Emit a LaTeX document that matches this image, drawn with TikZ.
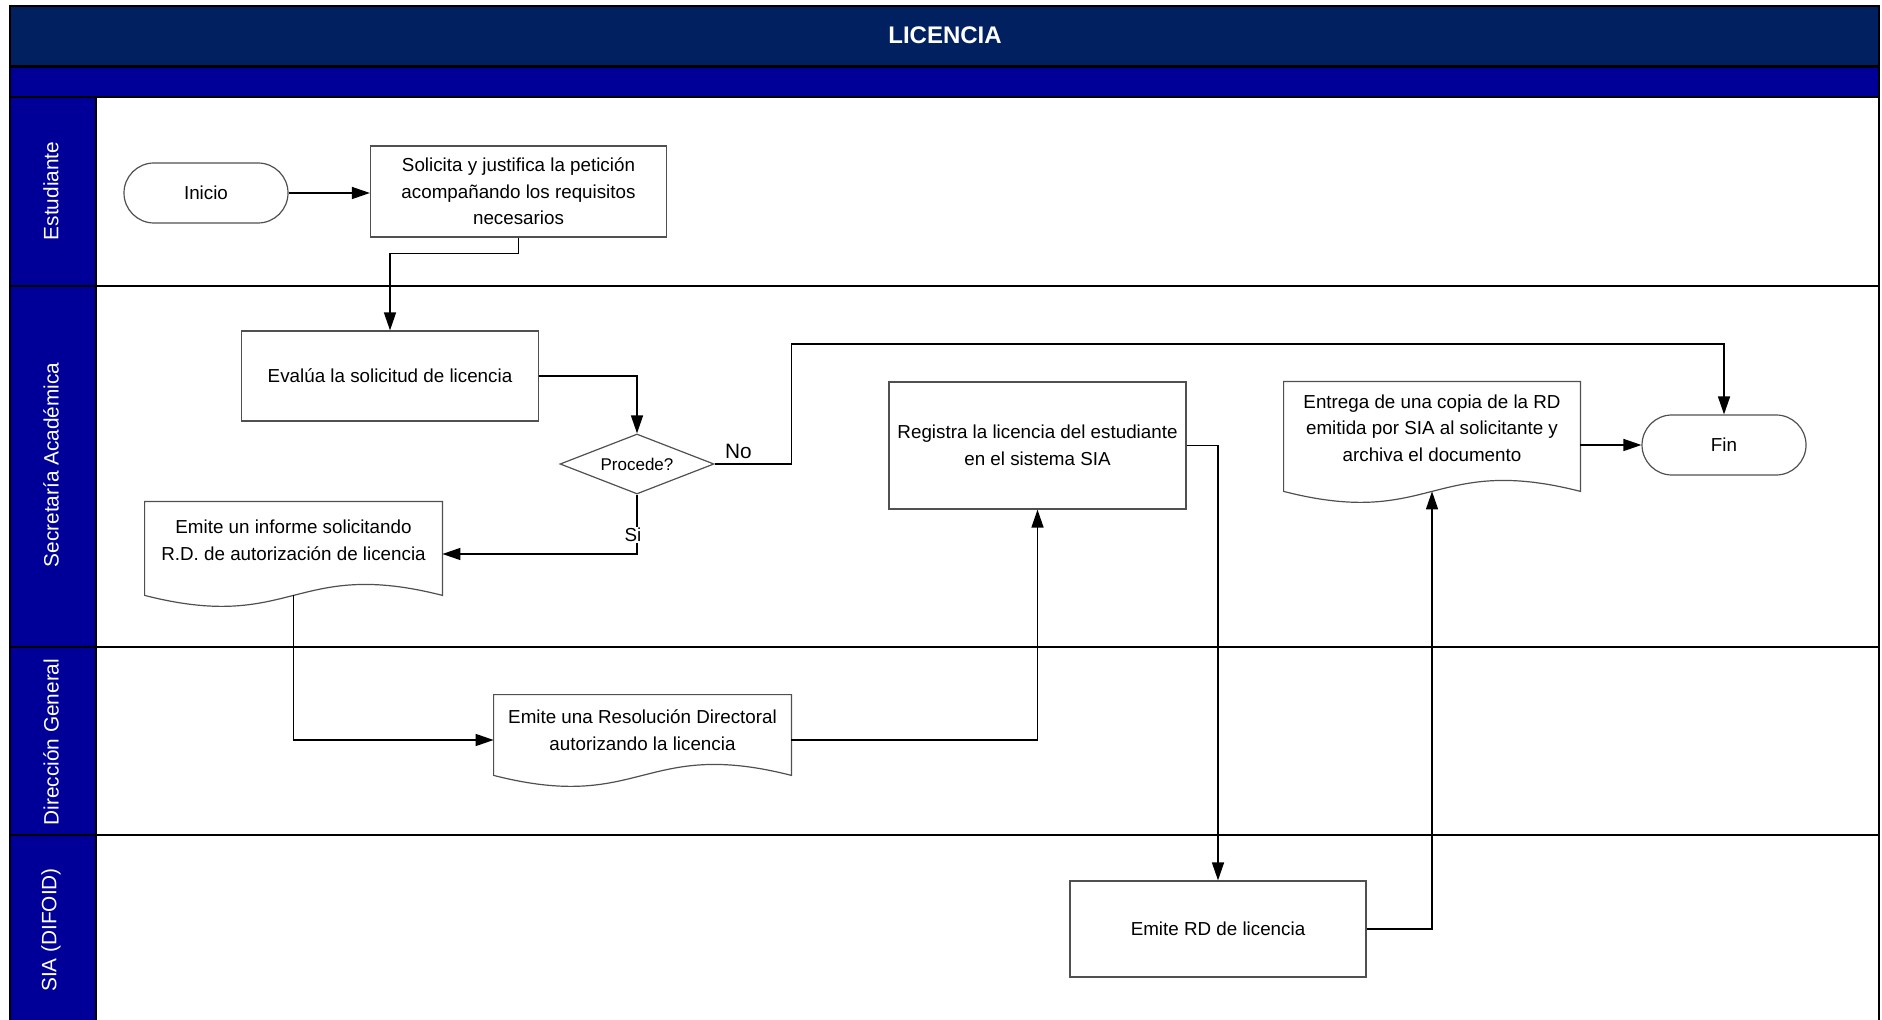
\documentclass[tikz,border=0pt]{standalone}
\usepackage{fontspec}
\setmainfont{Liberation Sans}
\usetikzlibrary{shapes.geometric,arrows.meta,calc}
\definecolor{navy}{HTML}{002060}
\definecolor{laneblue}{HTML}{000099}
\definecolor{boxgray}{HTML}{505050}
\newcommand\myBody{\fontsize{9.4}{13.3}\selectfont}
\newcommand\myLane{\fontsize{10.4}{12}\selectfont}
\newcommand\myTitle{\bfseries\fontsize{12}{14}\selectfont}
% doc outline: name, width (units), side extension below node (units)
\newcommand\docoutline[3]{%
  \draw[boxgray, line width=0.6pt]
    ([yshift=-#3*0.5pt]#1.south west) -- (#1.north west) -- (#1.north east)
    -- ([yshift=-#3*0.5pt]#1.south east)
    .. controls +(-#2*0.5,-38) and +(#2*0.5,38) .. ([yshift=-#3*0.5pt]#1.south west) -- cycle;
  \coordinate (#1-bot) at ([yshift=-#3*0.5pt]#1.south);}
\begin{document}
\begin{tikzpicture}[x=0.5pt,y=-0.5pt,
  lanelbl/.style={text=white, rotate=90, font=\myLane},
  laneline/.style={draw=black, line width=1pt},
  box/.style={draw=boxgray, line width=0.6pt, fill=white, align=center, font=\myBody, inner sep=2pt},
  term/.style={box, rounded corners=15pt, minimum width=82pt, minimum height=30pt},
  docnode/.style={align=center, font=\myBody, inner sep=2pt},
  decision/.style={diamond, draw=boxgray, line width=0.6pt, fill=white, aspect=2.57, inner sep=0pt,
    minimum width=77pt, minimum height=30pt, font=\fontsize{8.5}{10}\selectfont},
  arr/.style={draw=black, line width=0.75pt, -{Triangle[length=9pt,width=6pt]}},
  lbl/.style={font=\myLane, inner sep=1pt}
]
\useasboundingbox (0,0) rectangle (1882,1020);
\clip (0,0) rectangle (1882,1020);
\fill[white] (0,0) rectangle (1882,1020);
% header bands
\fill[navy] (10,6) rectangle (1879,66);
\fill[laneblue] (10,68) rectangle (1879,97);
\fill[laneblue] (10,97) rectangle (96,1030);
\draw[line width=1.5pt] (10,67) -- (1879,67);
\draw[laneline] (10,97) -- (1879,97);
\draw[laneline] (10,286) -- (1879,286);
\draw[laneline] (10,647) -- (1879,647);
\draw[laneline] (10,835) -- (1879,835);
\draw[laneline] (96,97) -- (96,1030);
\draw[line width=1.2pt] (10,1030) -- (10,6) -- (1879,6) -- (1879,1030);
\node[font=\myTitle, text=white] (title) at (945,35) {LICENCIA};
% lane labels
\node[lanelbl] (l1) at (51,191) {Estudiante};
\node[lanelbl] (l2) at (51,465) {Secretaría Académica};
\node[lanelbl] (l3) at (51,742) {Dirección General};
\node[lanelbl] (l4) at (51,930) {SIA (DIFOID)};
% nodes
\node[term] (inicio) at (206,193) {Inicio};
\node[box, minimum width=148pt, minimum height=45.5pt] (solicita) at (518.5,191.5)
  {Solicita y justifica la petición\\acompañando los requisitos\\necesarios};
\node[box, minimum width=148.5pt, minimum height=45pt] (evalua) at (390,376)
  {Evalúa la solicitud de licencia};
\node[decision] (procede) at (637,464) {Procede?};
\node[docnode, minimum width=148.5pt, minimum height=38pt] (informe) at (293.5,540)
  {Emite un informe solicitando\\R.D. de autorización de licencia};
\docoutline{informe}{297}{17}
\node[docnode, minimum width=148.5pt, minimum height=35pt] (resol) at (642.5,730)
  {Emite una Resolución Directoral\\autorizando la licencia};
\docoutline{resol}{297}{10}
\node[box, minimum width=148.5pt, minimum height=63.5pt] (registra) at (1037.5,445.5)
  {Registra la licencia del estudiante\\en el sistema SIA};
\node[box, minimum width=148pt, minimum height=48pt] (emiterd) at (1218,929)
  {Emite RD de licencia};
\node[docnode, minimum width=148pt, minimum height=46pt] (entrega) at (1432,428)
  {Entrega de una copia de la RD\\emitida por SIA al solicitante y\\archiva el documento};
\docoutline{entrega}{296}{17}
\node[term] (fin) at (1724,445) {Fin};
% connectors
\draw[arr] (inicio.east) -- (solicita.west |- inicio.east);
\draw[arr] (solicita.south) -- ++(0,16) -| (evalua.north);
\draw[arr] (evalua.east) -| (procede.north);
\draw[arr] (procede.east) -- node[lbl, above=1.5pt, pos=0.31]{No} ++(77,0) -- ++(0,-120) -| (fin.north);
\draw[arr] (procede.south) |- node[lbl, font=\myBody, fill=white, inner sep=0.5pt, pos=0.34, xshift=-2pt]{Si}
  ([yshift=-7pt]informe.east);
\draw[arr] (informe-bot) |- ([yshift=-5pt]resol.west);
\draw[arr] ([yshift=-5pt]resol.east) -| (registra.south);
\draw[arr] (registra.east) -| (emiterd.north);
\draw[arr] (emiterd.east) -| (entrega-bot);
\draw[arr] ([yshift=-8.5pt]entrega.east) -- (fin.west);
\end{tikzpicture}
\end{document}
